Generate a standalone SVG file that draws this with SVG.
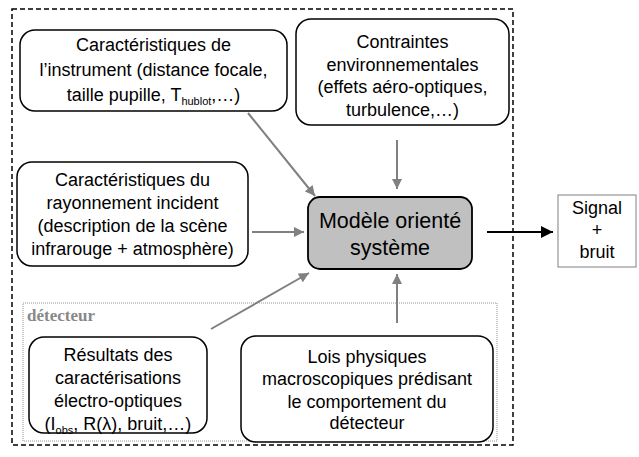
<svg xmlns="http://www.w3.org/2000/svg" width="639" height="457" viewBox="0 0 639 457">
<defs>
<style>
text{font-family:"Liberation Sans",Arial,sans-serif;font-size:18px;fill:#000;text-anchor:middle}
.node{fill:#fff;stroke:#000;stroke-width:1.5}
.central{fill:#c0c0c0;stroke:#000;stroke-width:1.8}
.big{font-size:21.5px}
.conn{stroke:#808080;stroke-width:2;fill:none;marker-end:url(#ag)}
.out{stroke:#000;stroke-width:2;fill:none;marker-end:url(#ab)}
.sub{font-size:11px}
</style>
<marker id="ag" viewBox="0 0 10 10" refX="10" refY="5" markerWidth="5.5" markerHeight="5" orient="auto" markerUnits="strokeWidth"><path d="M0,0 L10,5 L0,10 z" fill="#808080"/></marker>
<marker id="ab" viewBox="0 0 10 10" refX="10" refY="5" markerWidth="6.5" markerHeight="6" orient="auto" markerUnits="strokeWidth"><path d="M0,0 L10,5 L0,10 z" fill="#000"/></marker>
</defs>
<rect width="639" height="457" fill="#fff"/>
<g id="system-boundary"><rect x="12" y="9" width="501" height="436" fill="none" stroke="#000" stroke-width="1.5" stroke-dasharray="5,3"/></g>
<g id="detecteur-group"><rect x="23" y="303" width="474" height="138" fill="none" stroke="#999" stroke-width="1" stroke-dasharray="1,1"/>
<text x="27" y="321" style="font-family:'Liberation Serif','Times New Roman',serif;font-weight:bold;font-size:17px;fill:#888;text-anchor:start">détecteur</text></g>
<g id="connectors">
<line class="conn" x1="248" y1="113" x2="315" y2="196"/>
<line class="conn" x1="397" y1="140" x2="397" y2="189"/>
<line class="conn" x1="252" y1="232" x2="304" y2="232"/>
<line class="conn" x1="211" y1="329" x2="309" y2="273"/>
<line class="conn" x1="397" y1="323" x2="397" y2="274"/>
<line class="out" x1="487" y1="232" x2="553" y2="232"/>
</g>
<g id="instrument"><rect class="node" x="20" y="30" width="267" height="81" rx="15"/>
<text x="153.5" y="51">Caractéristiques de</text>
<text x="153.5" y="76">l’instrument (distance focale,</text>
<text x="153.5" y="100.5">taille pupille, T<tspan class="sub" dy="4">hublot</tspan><tspan dy="-4">,…)</tspan></text></g>
<g id="contraintes"><rect class="node" x="296" y="19" width="213" height="106" rx="15"/>
<text x="402.5" y="48">Contraintes</text>
<text x="402.5" y="70.5">environnementales</text>
<text x="402.5" y="93">(effets aéro-optiques,</text>
<text x="402.5" y="115.5">turbulence,…)</text></g>
<g id="rayonnement"><rect class="node" x="17" y="162" width="231" height="104" rx="15"/>
<text x="132.5" y="186">Caractéristiques du</text>
<text x="132.5" y="209">rayonnement incident</text>
<text x="132.5" y="232">(description de la scène</text>
<text x="132.5" y="254.5">infrarouge + atmosphère)</text></g>
<g id="modele"><rect class="central" x="308" y="197" width="164" height="72" rx="12"/>
<text class="big" x="390" y="228">Modèle orienté</text>
<text class="big" x="390" y="255">système</text></g>
<g id="signal"><rect x="558" y="195" width="78" height="72" fill="#fff" stroke="#808080" stroke-width="1"/>
<text x="597" y="214">Signal</text>
<text x="597" y="236">+</text>
<text x="597" y="258">bruit</text></g>
<g id="resultats"><rect class="node" x="29" y="337" width="178" height="96" rx="15"/>
<text x="118" y="361">Résultats des</text>
<text x="118" y="384">caractérisations</text>
<text x="118" y="407">électro-optiques</text>
<text x="118" y="430">(I<tspan class="sub" dy="4">obs</tspan><tspan dy="-4">, R(λ), bruit,…)</tspan></text></g>
<g id="lois"><rect class="node" x="241" y="336" width="252" height="106" rx="15"/>
<text x="367" y="362.5">Lois physiques</text>
<text x="367" y="385">macroscopiques prédisant</text>
<text x="367" y="407.5">le comportement du</text>
<text x="367" y="429">détecteur</text></g>
</svg>
